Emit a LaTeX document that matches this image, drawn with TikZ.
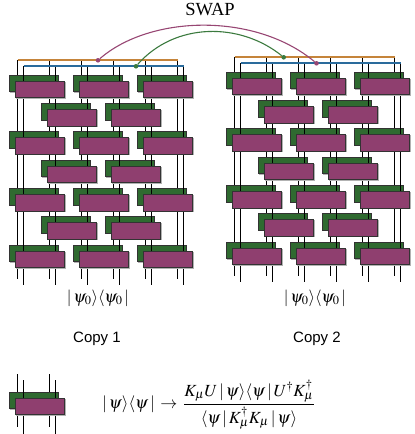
\documentclass[tikz,border=0pt]{standalone}
\usepackage{amsmath}
\usepackage{mathptmx}
\usepackage[no-math]{fontspec}
\setmainfont{Liberation Serif}
\setsansfont{Liberation Sans}
\definecolor{gatego}{HTML}{2F6A30}
\definecolor{gatepu}{HTML}{8F3F6F}
\definecolor{baror}{HTML}{C5843A}
\definecolor{barbl}{HTML}{2A6B9C}
\definecolor{arcpu}{HTML}{974673}
\definecolor{arcgr}{HTML}{3B7A3E}
\tikzset{
  wire/.style={black,line width=1.5pt},
  barline/.style={line width=1.7pt},
  greenbox/.style={draw=black!80,fill=gatego,line width=.7pt},
  purplebox/.style={draw=black!80,fill=gatepu,line width=.7pt},
  halo/.style={fill=black!30,draw=none},
  tn/.style={inner sep=0pt,outer sep=0pt},
  dotp/.style={circle,fill=arcpu,inner sep=0pt,minimum size=4.6pt},
  dotg/.style={circle,fill=arcgr,inner sep=0pt,minimum size=4.6pt},
}
% green box at (#1,#2)
\newcommand{\grn}[2]{%
  \fill[halo] (#1+.5,#2+.5) rectangle ++(49.5,17);
  \draw[greenbox] (#1,#2) rectangle ++(49,16.5);}
% purple box for a green box at (#1,#2)
\newcommand{\pur}[2]{%
  \fill[halo] (#1+7,#2+6.5) rectangle ++(49.5,17);
  \draw[purplebox] (#1+6.5,#2+6) rectangle ++(49,16.5);}
% #1 x shift, #2 y shift
\newcommand{\net}[2]{%
  \begin{scope}[shift={(#1,#2)}]
    \foreach \i in {0,...,5}{
      \coordinate (bt\i) at (17.5+32*\i,60.3);
      \coordinate (bb\i) at (17.5+32*\i,278.5);
      \coordinate (ft\i) at (23.5+32*\i,66.3);
      \coordinate (fb\i) at (23.5+32*\i,284.5);
      \draw[wire] (bt\i) -- (bb\i);
    }
    \foreach \r in {0,2,4,6}{\foreach \c in {0,1,2}{\grn{9+64*\c}{75+28.35*\r}}}
    \foreach \r in {1,3,5}{\foreach \c in {0,1}{\grn{41+64*\c}{75+28.35*\r}}}
    \foreach \i in {0,...,5}{\draw[wire] (ft\i) -- (fb\i);}
    \foreach \r in {0,2,4,6}{\foreach \c in {0,1,2}{\pur{9+64*\c}{75+28.35*\r}}}
    \foreach \r in {1,3,5}{\foreach \c in {0,1}{\pur{41+64*\c}{75+28.35*\r}}}
  \end{scope}
  \draw[baror,barline] (bt0) -- (bt5);
  \draw[barbl,barline] (ft0) -- (ft5);}
\begin{document}
\begin{tikzpicture}[x=1pt,y=-1pt]
\useasboundingbox (0,0) rectangle (415,434);
\net{0}{0}
\net{217}{-3}
% swap arcs
\node[dotp] (pa) at (98,60.3) {};
\node[dotg] (ga) at (136,66.3) {};
\node[dotg] (gb) at (283.7,57.3) {};
\node[dotp] (pb) at (316.5,63.3) {};
\draw[arcpu,line width=1.1pt] (pa) .. controls (150,15) and (255,12) .. (pb);
\draw[arcgr,line width=1.1pt] (ga) .. controls (175,22) and (240,22) .. (gb);
% labels
\node[tn,font=\fontsize{18.5}{18.5}\selectfont] (swap) at (210,9.5) {SWAP};
\node[tn,font=\fontsize{16.7}{17}\selectfont] (k1) at (98,298) {$|\,\psi_0\rangle\langle\psi_0\,|$};
\node[tn,font=\fontsize{16.7}{17}\selectfont] (k2) at (315,298) {$|\,\psi_0\rangle\langle\psi_0\,|$};
\node[tn,font=\sffamily\fontsize{15}{15}\selectfont] (c1) at (97,338.5) {Copy 1};
\node[tn,font=\sffamily\fontsize{15}{15}\selectfont] (c2) at (317,338.5) {Copy 2};
% legend
\coordinate (l1a) at (17.5,374); \coordinate (l1b) at (17.5,427);
\coordinate (l2a) at (49.5,374); \coordinate (l2b) at (49.5,427);
\coordinate (l3a) at (23.5,380); \coordinate (l3b) at (23.5,433.5);
\coordinate (l4a) at (55.5,380); \coordinate (l4b) at (55.5,433.5);
\draw[wire] (l1a) -- (l1b);
\draw[wire] (l2a) -- (l2b);
\grn{9}{392.3}
\draw[wire] (l3a) -- (l3b);
\draw[wire] (l4a) -- (l4b);
\pur{9}{392.3}
\node[tn,font=\fontsize{17}{18}\selectfont] (eq) at (208.5,404.5)
  {$|\,\psi\rangle\langle\psi\,|\,\rightarrow\,\dfrac{K_\mu U\,|\,\psi\rangle\langle\psi\,|\,U^\dagger K_\mu^\dagger}{\langle\psi\,|\,K_\mu^\dagger K_\mu\,|\,\psi\rangle}$};
\end{tikzpicture}
\end{document}
